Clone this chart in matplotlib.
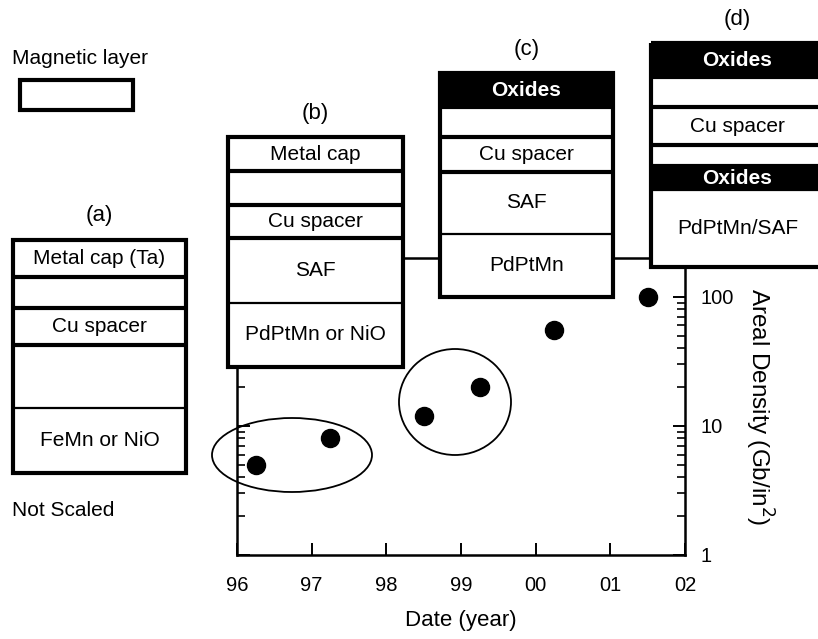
import matplotlib
matplotlib.use("Agg")
import matplotlib.pyplot as plt
from matplotlib.patches import Rectangle, Ellipse
from matplotlib.ticker import FuncFormatter, NullFormatter

plt.rcParams['font.family'] = ['Liberation Sans', 'DejaVu Sans']

# data: areal density vs year
years = [96.25, 97.25, 98.5, 99.25, 100.25, 101.5]
density = [5, 8, 12, 20, 55, 100]
tick_years = [96, 97, 98, 99, 100, 101, 102]
tick_labels = ["96", "97", "98", "99", "00", "01", "02"]

# layer stacks (figure pixels): edges top->bottom, labels, fills, inner divider widths
stack_names = ["(a)", "(b)", "(c)", "(d)"]
stack_x = [(13, 186), (228, 403), (440, 613), (651, 824)]
stack_edges = [
    [240, 277, 308, 345, 408, 473],
    [137, 171, 205, 238, 303, 367],
    [73, 107, 137, 172, 234, 297],
    [43, 77, 107, 145, 166, 190, 267],
]
stack_labels = [
    ["Metal cap (Ta)", "", "Cu spacer", "", "FeMn or NiO"],
    ["Metal cap", "", "Cu spacer", "SAF", "PdPtMn or NiO"],
    ["Oxides", "", "Cu spacer", "SAF", "PdPtMn"],
    ["Oxides", "", "Cu spacer", "", "Oxides", "PdPtMn/SAF"],
]
stack_black = [
    [0, 0, 0, 0, 0],
    [0, 0, 0, 0, 0],
    [1, 0, 0, 0, 0],
    [1, 0, 0, 0, 1, 0],
]
THICK, THIN = 3.0, 1.6
stack_div = [
    [THICK, THICK, THICK, THIN],
    [THICK, THICK, THICK, THIN],
    [THICK, THICK, THICK, THIN],
    [THICK, THICK, THICK, THICK, THIN],
]

fig = plt.figure(figsize=(8.18, 6.39), dpi=100)

# main plot
ax = fig.add_axes([237 / 818, 84 / 639, 448 / 818, 297 / 639])
ax.set_yscale('log')
ax.set_xlim(96, 102)
ax.set_ylim(1, 200)
ax.plot(years, density, 'o', color='black', ms=13)
ax.set_xticks(tick_years)
ax.set_xticklabels(tick_labels)
ax.yaxis.set_label_position('right')
ax.yaxis.set_major_formatter(FuncFormatter(lambda v, p: f"{v:g}"))
ax.yaxis.set_minor_formatter(NullFormatter())
ax.tick_params(axis='y', which='both', direction='in', left=True, right=True,
               labelleft=False, labelright=True, labelsize=14.5, pad=11)
ax.tick_params(axis='y', which='major', length=9, width=1.4)
ax.tick_params(axis='y', which='minor', length=6, width=1.2)
ax.tick_params(axis='x', which='major', direction='in', length=8.5, width=1.4,
               labelsize=14.5, pad=15)
ax.tick_params(axis='x', which='minor', bottom=False)
for s in ax.spines.values():
    s.set_linewidth(1.8)
ax.set_xlabel("Date (year)", fontsize=16, labelpad=11)
ax.set_ylabel("Areal Density (Gb/in$^2$)", fontsize=17.5, rotation=270, labelpad=30)

# overlay in pixel coordinates
ov = fig.add_axes([0, 0, 1, 1], zorder=5)
ov.set_xlim(0, 818)
ov.set_ylim(639, 0)
ov.axis('off')
ov.patch.set_alpha(0)

ov.add_patch(Ellipse((292, 455), 160, 74, fill=False, lw=1.3, color='black'))
ov.add_patch(Ellipse((455, 402), 112, 106, fill=False, lw=1.3, color='black'))

for name, (x0, x1), edges, labels, black, divs in zip(
        stack_names, stack_x, stack_edges, stack_labels, stack_black, stack_div):
    w = x1 - x0
    ov.add_patch(Rectangle((x0, edges[0]), w, edges[-1] - edges[0],
                           facecolor='white', edgecolor='none'))
    for i, lab in enumerate(labels):
        y0, y1 = edges[i], edges[i + 1]
        if black[i]:
            ov.add_patch(Rectangle((x0, y0), w, y1 - y0, facecolor='black',
                                   edgecolor='none'))
        if lab:
            ov.text((x0 + x1) / 2, (y0 + y1) / 2, lab, ha='center', va='center',
                    fontsize=15, color='white' if black[i] else 'black',
                    fontweight='bold' if black[i] else 'normal')
    for y, lw in zip(edges[1:-1], divs):
        ov.plot([x0, x1], [y, y], color='black', lw=lw, solid_capstyle='butt')
    ov.add_patch(Rectangle((x0, edges[0]), w, edges[-1] - edges[0],
                           facecolor='none', edgecolor='black', lw=THICK))
    ov.text((x0 + x1) / 2, edges[0] - 24, name, ha='center', va='center', fontsize=16)

ov.text(12, 58, "Magnetic layer", ha='left', va='center', fontsize=15)
ov.add_patch(Rectangle((20, 80), 113, 30, facecolor='white', edgecolor='black', lw=THICK))
ov.text(12, 510, "Not Scaled", ha='left', va='center', fontsize=15)

fig.savefig("out.png", dpi=100)
